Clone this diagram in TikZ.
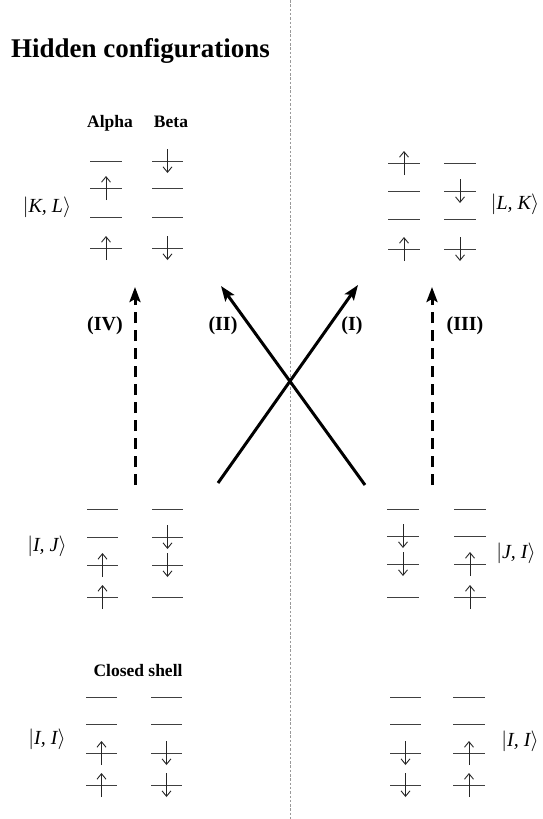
\documentclass[tikz,border=0pt]{standalone}
\usepackage{fontspec}
\setmainfont{Liberation Serif}
\usetikzlibrary{arrows.meta}
\newcommand\orbl[4]{%
  \draw[lvl] (#1,#3) -- (#2,#3);
  \if u#4\draw[spin] ({(#1+#2)/2},{#3+12}) -- ({(#1+#2)/2},{#3-12});\fi
  \if d#4\draw[spin] ({(#1+#2)/2},{#3-12}) -- ({(#1+#2)/2},{#3+12});\fi
}
\newcommand\myket[1]{$\bigl|\mbox{\itshape #1}\bigr\rangle$}
\begin{document}
\begin{tikzpicture}[x=1pt,y=-1pt,
  lvl/.style={line width=0.9pt,black!75},
  spin/.style={line width=0.9pt,black!85,-{Straight Barb[length=5.5pt,width=9pt]}},
  bigarrow/.style={line width=3pt,-{Stealth[length=15pt,width=11pt,inset=3pt]}},
  bigdash/.style={bigarrow,dash pattern=on 11pt off 7pt},
  divider/.style={gray!80,line width=0.8pt,dash pattern=on 2.5pt off 1.8pt},
  ketlabel/.style={font=\fontsize{20}{24}\selectfont,inner sep=0pt},
  head/.style={font=\fontsize{17.5}{21}\selectfont\bfseries,inner sep=0pt},
  roman/.style={font=\fontsize{20}{24}\selectfont\bfseries,inner sep=0pt}]
\useasboundingbox (0,0) rectangle (542,819);
\draw[divider] (290,0) -- (290,819);

\node[anchor=base west,inner sep=0pt,font=\fontsize{27}{30}\selectfont\bfseries] (title) at (11,57) {Hidden configurations};

\node[head,anchor=base] (alpha) at (110,127) {Alpha};
\node[head,anchor=base] (beta) at (171,127) {Beta};
\node[head,anchor=base] (closed) at (138,676) {Closed shell};

% top left |K,L>
\foreach \y/\s in {161/0,188/u,217/0,248/u} {\orbl{90}{122}{\y}{\s}}
\foreach \y/\s in {161/d,188/0,217/0,248/d} {\orbl{152}{183}{\y}{\s}}
\node[ketlabel] (kl) at (47,207) {\myket{K, L}};

% top right |L,K>
\foreach \y/\s in {163/u,191/0,219/0,249/u} {\orbl{388}{420}{\y}{\s}}
\foreach \y/\s in {163/0,191/d,219/0,249/d} {\orbl{444}{476}{\y}{\s}}
\node[ketlabel] (lk) at (515,204) {\myket{L, K}};

% middle left |I,J>
\foreach \y/\s in {509/0,537/0,565/u,597/u} {\orbl{87}{118}{\y}{\s}}
\foreach \y/\s in {509/0,537/d,565/d,597/0} {\orbl{152}{183}{\y}{\s}}
\node[ketlabel] (ij) at (47,546) {\myket{I, J}};

% middle right |J,I>
\foreach \y/\s in {509/0,536/d,564/d,597/0} {\orbl{387}{419}{\y}{\s}}
\foreach \y/\s in {509/0,536/0,564/u,597/u} {\orbl{454}{486}{\y}{\s}}
\node[ketlabel] (ji) at (516,553) {\myket{J, I}};

% bottom left |I,I>
\foreach \y/\s in {697/0,724/0,753/u,785/u} {\orbl{86}{117}{\y}{\s}}
\foreach \y/\s in {697/0,724/0,753/d,785/d} {\orbl{151}{182}{\y}{\s}}
\node[ketlabel] (iil) at (47,739) {\myket{I, I}};

% bottom right |I,I>
\foreach \y/\s in {697/0,724/0,753/d,785/d} {\orbl{390}{421}{\y}{\s}}
\foreach \y/\s in {697/0,724/0,753/u,785/u} {\orbl{453}{485}{\y}{\s}}
\node[ketlabel] (iir) at (520,741) {\myket{I, I}};

% main arrows
\coordinate (IVs) at (135,485); \coordinate (IVe) at (135,287);
\coordinate (IIIs) at (432,485); \coordinate (IIIe) at (432,287);
\coordinate (Is) at (218,483); \coordinate (Ie) at (358,285);
\coordinate (IIs) at (365,485); \coordinate (IIe) at (221,286);
\draw[bigdash] (IVs) -- (IVe);
\draw[bigdash] (IIIs) -- (IIIe);
\draw[bigarrow] (Is) -- (Ie);
\draw[bigarrow] (IIs) -- (IIe);

\node[roman] (lIV) at (105,326) {(IV)};
\node[roman] (lII) at (223,326) {(II)};
\node[roman] (lI) at (352,326) {(I)};
\node[roman] (lIII) at (465,326) {(III)};
\end{tikzpicture}
\end{document}
